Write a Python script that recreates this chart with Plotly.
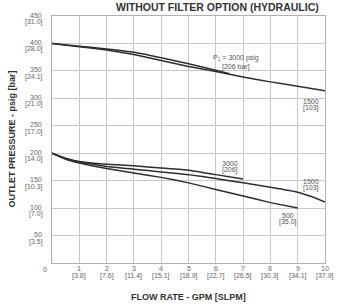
import plotly.graph_objects as go

# ---- data ----
x_ticks = [1, 2, 3, 4, 5, 6, 7, 8, 9, 10]
x_tick_gpm = ["1", "2", "3", "4", "5", "6", "7", "8", "9", "10"]
x_tick_slpm = ["[3.8]", "[7.6]", "[11.4]", "[15.1]", "[18.9]",
               "[22.7]", "[26.5]", "[30.3]", "[34.1]", "[37.9]"]
y_ticks = [50, 100, 150, 200, 250, 300, 350, 400, 450]
y_tick_psig = ["50", "100", "150", "200", "250", "300", "350", "400", "450"]
y_tick_bar = ["[3.5]", "[7.0]", "[10.3]", "[14.0]", "[17.0]",
              "[21.0]", "[24.1]", "[28.0]", "[31.0]"]

top_3000_flow = [0, 1, 2, 3, 4, 5, 6, 6.5]
top_3000_p = [400, 395, 390, 384, 374, 363, 351, 345]
top_1500_flow = [0, 1, 2, 3, 4, 5, 6, 7, 8, 9, 10]
top_1500_p = [400, 394, 388, 380, 369, 358, 349, 339, 330, 322, 314]

low_3000_flow = [0, 0.5, 1, 2, 3, 4, 5, 6, 7]
low_3000_p = [200, 191, 185, 180, 177, 173, 169, 161, 153]
low_1500_flow = [0, 0.5, 1, 2, 3, 4, 5, 6, 7, 8, 9, 9.5, 10]
low_1500_p = [200, 190, 184, 176, 171, 166, 161, 154, 146, 138, 129, 121, 111]
low_500_flow = [0, 0.5, 1, 2, 3, 4, 5, 6, 7, 8, 9]
low_500_p = [200, 189, 182, 172, 164, 156, 146, 134, 122, 110, 100]

curve_labels = ["P<sub>1</sub> = 3000 psig", "[206 bar]", "1500", "[103]",
                "3000", "[206]", "1500", "[103]", "500", "[35.0]"]
curve_label_x = [6.75, 6.75, 9.5, 9.5, 6.52, 6.52, 9.48, 9.48, 8.64, 8.64]
curve_label_y = [373, 358, 295, 282, 182, 169, 149, 136, 87, 74]

FONT = "Liberation Sans, Arial, sans-serif"
LINE = "#2e2e2e"
TICKC = "#666666"

fig = go.Figure()
for fx, fy in [(top_3000_flow, top_3000_p), (top_1500_flow, top_1500_p),
               (low_3000_flow, low_3000_p), (low_1500_flow, low_1500_p),
               (low_500_flow, low_500_p)]:
    fig.add_trace(go.Scatter(x=fx, y=fy, mode="lines",
                             line=dict(color=LINE, width=1.5, shape="spline", smoothing=0.3),
                             showlegend=False, hoverinfo="skip"))

for t, lx, ly in zip(curve_labels, curve_label_x, curve_label_y):
    fig.add_annotation(x=lx, y=ly, text=t, showarrow=False,
                       font=dict(family=FONT, size=7, color="#555555"))

# x tick labels (two rows)
for xv, a, b in zip(x_ticks, x_tick_gpm, x_tick_slpm):
    fig.add_annotation(x=xv, xref="x", y=0, yref="paper", yanchor="top", yshift=0,
                       text=a, showarrow=False, font=dict(family=FONT, size=7, color=TICKC))
    fig.add_annotation(x=xv, xref="x", y=0, yref="paper", yanchor="top", yshift=-7,
                       text=b, showarrow=False, font=dict(family=FONT, size=7, color=TICKC))
# y tick labels (two rows)
for yv, a, b in zip(y_ticks, y_tick_psig, y_tick_bar):
    fig.add_annotation(x=0, xref="paper", xanchor="right", xshift=-8, y=yv, yref="y",
                       yshift=1, text=a, showarrow=False, font=dict(family=FONT, size=7, color=TICKC))
    fig.add_annotation(x=0, xref="paper", xanchor="right", xshift=-7, y=yv, yref="y",
                       yshift=-6, text=b, showarrow=False, font=dict(family=FONT, size=7, color=TICKC))

fig.add_annotation(x=0, xref="paper", y=0, yref="paper", text="0", showarrow=False,
                   xanchor="right", yanchor="top", xshift=-3, yshift=-1,
                   font=dict(family=FONT, size=7, color=TICKC))

# axis titles
fig.add_annotation(x=0.5, xref="paper", y=0, yref="paper", yanchor="top", yshift=-27,
                   text="<b>FLOW RATE - GPM [SLPM]</b>", showarrow=False,
                   font=dict(family=FONT, size=9, color="#333333"))
fig.add_annotation(x=0, xref="paper", xanchor="center", xshift=-41, y=0.5, yref="paper",
                   text="<b>OUTLET PRESSURE - psig [bar]</b>", showarrow=False, textangle=-90,
                   font=dict(family=FONT, size=9, color="#333333"))

fig.update_layout(
    width=337, height=304,
    margin=dict(l=52, r=12, t=16, b=41),
    paper_bgcolor="white", plot_bgcolor="white",
    font=dict(family=FONT, color="#333333"),
    title=dict(text="<b>WITHOUT FILTER OPTION (HYDRAULIC)</b>", x=0.645, xanchor="center",
               y=0.975, yanchor="middle", font=dict(family=FONT, size=10.5, color="#333333")),
)
fig.update_xaxes(range=[0, 10], tickvals=x_ticks, showticklabels=False, automargin=False,
                 showgrid=True, gridcolor="#c8c8c8", gridwidth=1,
                 showline=True, linecolor="#b0b0b0", mirror=True, zeroline=False, ticks="")
fig.update_yaxes(range=[0, 450], tickvals=y_ticks, showticklabels=False, automargin=False,
                 showgrid=True, gridcolor="#c8c8c8", gridwidth=1,
                 showline=True, linecolor="#b0b0b0", mirror=True, zeroline=False, ticks="")

fig.write_html("out.html", config={"displayModeBar": False, "staticPlot": True},
               post_script="document.body.style.margin='0';document.body.style.overflow='hidden';")
